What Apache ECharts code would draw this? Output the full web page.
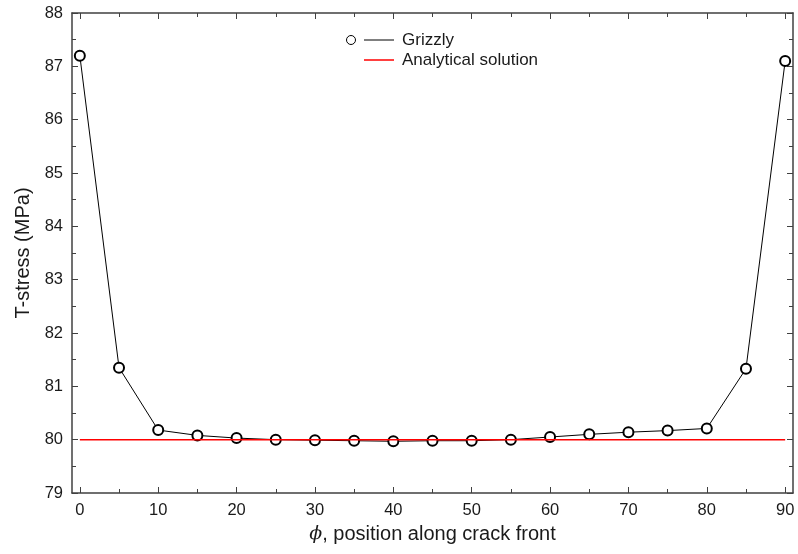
<!DOCTYPE html>
<html>
<head>
<meta charset="utf-8">
<script src="https://cdn.jsdelivr.net/npm/echarts@6/dist/echarts.min.js"></script>
<style>html,body{margin:0;padding:0;background:#fff}#c{width:798px;height:554px}</style>
</head>
<body>
<div id="c"></div>
<script>
const phi = [0, 5, 10, 15, 20, 25, 30, 35, 40, 45, 50, 55, 60, 65, 70, 75, 80, 85, 90];
const grizzly = [87.2, 81.35, 80.18, 80.08, 80.03, 80.0, 79.99, 79.98, 79.97, 79.98, 79.98, 80.0, 80.05, 80.1, 80.14, 80.17, 80.21, 81.33, 87.1];
const analyticalX = [0, 90];
const analyticalY = [80, 80];
const xMajorTicks = [0, 10, 20, 30, 40, 50, 60, 70, 80, 90];
const xMinorTicks = [5, 15, 25, 35, 45, 55, 65, 75, 85];
const legendNames = ['Grizzly', 'Analytical solution'];

const FONT = 'Liberation Sans, Arial, sans-serif';
const AX = '#404040';
const TXT = '#1a1a1a';

function xAx(pos, ticks, len, labels, line) {
  return {
    type: 'value', position: pos, min: -1, max: 91,
    axisLine: { show: line, onZero: false, lineStyle: { color: AX, width: 1.5 } },
    axisTick: { show: true, inside: true, length: len, customValues: ticks, lineStyle: { color: AX, width: 1 } },
    axisLabel: labels ? { show: true, customValues: ticks, color: TXT, fontFamily: FONT, fontSize: 16.5, margin: 9 } : { show: false },
    splitLine: { show: false }
  };
}
function yAx(pos, labels) {
  return {
    type: 'value', position: pos, min: 79, max: 88, interval: 1,
    axisLine: { show: true, onZero: false, lineStyle: { color: AX, width: 1.5 } },
    axisTick: { show: true, inside: true, length: 6, lineStyle: { color: AX, width: 1 } },
    minorTick: { show: true, splitNumber: 2, length: 4, lineStyle: { color: AX, width: 1 } },
    axisLabel: labels ? { show: true, color: TXT, fontFamily: FONT, fontSize: 16.5, margin: 9 } : { show: false },
    splitLine: { show: false }, minorSplitLine: { show: false }
  };
}

const xAxes = [
  xAx('bottom', xMajorTicks, 6, true, true),
  xAx('bottom', xMinorTicks, 4, false, false),
  xAx('top', xMajorTicks, 6, false, true),
  xAx('top', xMinorTicks, 4, false, false)
];
xAxes[0].name = '{p|ϕ}, position along crack front';
xAxes[0].nameLocation = 'middle';
xAxes[0].nameGap = 31;
xAxes[0].nameTextStyle = { color: TXT, fontFamily: FONT, fontSize: 20,
  rich: { p: { fontFamily: 'DejaVu Serif', fontStyle: 'italic', fontSize: 19, color: TXT } } };

const yAxes = [yAx('left', true), yAx('right', false)];
yAxes[0].name = 'T-stress (MPa)';
yAxes[0].nameLocation = 'middle';
yAxes[0].nameGap = 39;
yAxes[0].nameTextStyle = { color: TXT, fontFamily: FONT, fontSize: 20 };

const chart = echarts.init(document.getElementById('c'), null, { renderer: 'canvas' });
chart.setOption({
  animation: false,
  backgroundColor: '#fff',
  grid: { left: 72, right: 5, top: 13, bottom: 61 },
  xAxis: xAxes,
  yAxis: yAxes,
  series: [
    {
      name: legendNames[0], type: 'line', xAxisIndex: 0, yAxisIndex: 0,
      data: phi.map((x, i) => [x, grizzly[i]]),
      symbol: 'emptyCircle', symbolSize: 10, showAllSymbol: true,
      lineStyle: { color: '#000', width: 1 },
      itemStyle: { color: '#000', borderColor: '#000', borderWidth: 1 },
      z: 2
    },
    {
      name: legendNames[1], type: 'line', xAxisIndex: 0, yAxisIndex: 0,
      data: analyticalX.map((x, i) => [x, analyticalY[i]]),
      symbol: 'none',
      lineStyle: { color: '#ff0000', width: 1.5 },
      z: 3
    }
  ],
  graphic: [
    { type: 'circle', shape: { cx: 351, cy: 40, r: 4.5 }, style: { fill: '#fff', stroke: '#000', lineWidth: 1 } },
    { type: 'line', shape: { x1: 364, y1: 40, x2: 394, y2: 40 }, style: { stroke: '#000', lineWidth: 1 } },
    { type: 'text', x: 402, y: 40, style: { text: legendNames[0], font: '17px ' + FONT, fill: TXT, verticalAlign: 'middle' } },
    { type: 'line', shape: { x1: 364, y1: 60, x2: 394, y2: 60 }, style: { stroke: '#ff0000', lineWidth: 1.5 } },
    { type: 'text', x: 402, y: 60, style: { text: legendNames[1], font: '17px ' + FONT, fill: TXT, verticalAlign: 'middle' } }
  ]
});
</script>
</body>
</html>
